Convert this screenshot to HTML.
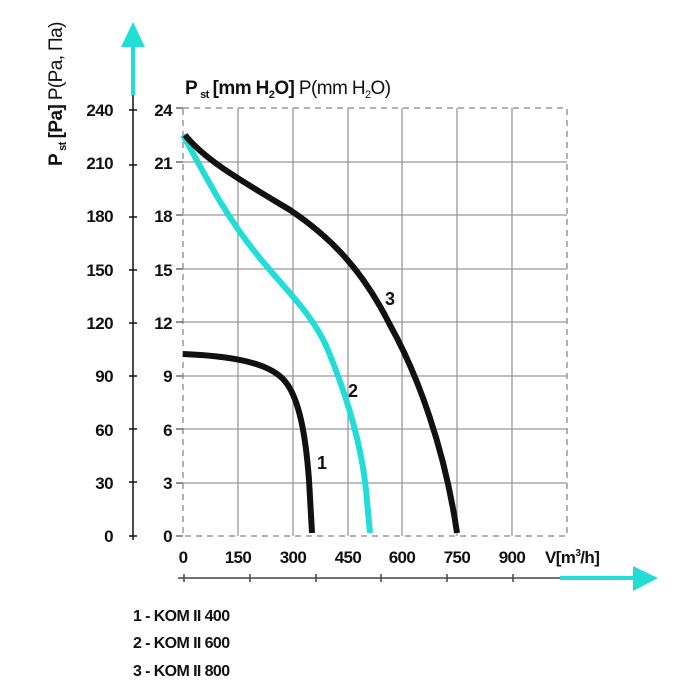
<!DOCTYPE html>
<html><head><meta charset="utf-8"><style>
body{margin:0;background:#fff}
svg{display:block}
text{font-family:"Liberation Sans Narrow","Liberation Sans",sans-serif;font-weight:bold;fill:#111;letter-spacing:-0.6px}
</style></head><body>
<svg width="700" height="700" viewBox="0 0 700 700" xmlns="http://www.w3.org/2000/svg">
<g stroke="#999" stroke-width="1.3">
<line x1="238" y1="108" x2="238" y2="536"/><line x1="293" y1="108" x2="293" y2="536"/>
<line x1="348" y1="108" x2="348" y2="536"/><line x1="402" y1="108" x2="402" y2="536"/>
<line x1="457" y1="108" x2="457" y2="536"/><line x1="512" y1="108" x2="512" y2="536"/>
<line x1="183" y1="162" x2="567" y2="162"/><line x1="183" y1="215" x2="567" y2="215"/>
<line x1="183" y1="269" x2="567" y2="269"/><line x1="183" y1="322" x2="567" y2="322"/>
<line x1="183" y1="376" x2="567" y2="376"/><line x1="183" y1="429" x2="567" y2="429"/>
<line x1="183" y1="483" x2="567" y2="483"/>
</g>
<g stroke="#999" stroke-width="1.5" stroke-dasharray="6,5" fill="none">
<rect x="183" y="108" width="384" height="428"/>
</g>
<g stroke="#555" stroke-width="1.3">
<line x1="176" y1="108" x2="183" y2="108"/><line x1="176" y1="162" x2="183" y2="162"/>
<line x1="176" y1="215" x2="183" y2="215"/><line x1="176" y1="269" x2="183" y2="269"/>
<line x1="176" y1="322" x2="183" y2="322"/><line x1="176" y1="376" x2="183" y2="376"/>
<line x1="176" y1="429" x2="183" y2="429"/><line x1="176" y1="483" x2="183" y2="483"/>
<line x1="176" y1="536" x2="183" y2="536"/>
</g>
<line x1="133" y1="95" x2="133" y2="540" stroke="#111" stroke-width="1.5"/>
<g stroke="#111" stroke-width="1.5">
<line x1="129" y1="110" x2="137" y2="110"/><line x1="129" y1="165" x2="137" y2="165"/>
<line x1="129" y1="217" x2="137" y2="217"/><line x1="129" y1="270" x2="137" y2="270"/>
<line x1="129" y1="323" x2="137" y2="323"/><line x1="129" y1="376" x2="137" y2="376"/>
<line x1="129" y1="429" x2="137" y2="429"/><line x1="129" y1="482" x2="137" y2="482"/>
<line x1="129" y1="536" x2="137" y2="536"/>
</g>
<line x1="133" y1="95" x2="133" y2="45" stroke="#22ddd6" stroke-width="4"/>
<polygon points="121,47 145,47 133,22" fill="#22ddd6"/>
<line x1="178" y1="578" x2="560" y2="578" stroke="#444" stroke-width="1.5"/>
<g stroke="#444" stroke-width="1.5">
<line x1="184" y1="574" x2="184" y2="582"/><line x1="250" y1="574" x2="250" y2="582"/>
<line x1="316" y1="574" x2="316" y2="582"/><line x1="381" y1="574" x2="381" y2="582"/>
<line x1="447" y1="574" x2="447" y2="582"/><line x1="513" y1="574" x2="513" y2="582"/>
</g>
<line x1="560" y1="578" x2="636" y2="578" stroke="#22ddd6" stroke-width="4"/>
<polygon points="633,566 633,591 658,578" fill="#22ddd6"/>
<g font-size="17" text-anchor="end">
<text x="113" y="116">240</text><text x="113" y="169">210</text><text x="113" y="222">180</text>
<text x="113" y="276">150</text><text x="113" y="329">120</text><text x="113" y="382">90</text>
<text x="113" y="436">60</text><text x="113" y="489">30</text><text x="113" y="542">0</text>
<text x="172" y="116">24</text><text x="172" y="169">21</text><text x="172" y="222">18</text>
<text x="172" y="276">15</text><text x="172" y="329">12</text><text x="172" y="382">9</text>
<text x="172" y="436">6</text><text x="172" y="489">3</text><text x="172" y="542">0</text>
</g>
<g font-size="17" text-anchor="middle">
<text x="183" y="563">0</text><text x="238" y="563">150</text><text x="293" y="563">300</text>
<text x="348" y="563">450</text><text x="402" y="563">600</text><text x="457" y="563">750</text>
<text x="512" y="563">900</text>
</g>
<text x="545" y="563" font-size="17">V[m<tspan font-size="10" dy="-7">3</tspan><tspan dy="7">/h]</tspan></text>
<text x="185" y="94" font-size="19" letter-spacing="-1.1">P<tspan font-size="11" dx="3" dy="4">st</tspan><tspan dx="4" dy="-4">[mm H</tspan><tspan font-size="11" dy="4">2</tspan><tspan dy="-4">O] </tspan><tspan font-weight="normal">P(mm H</tspan><tspan font-weight="normal" font-size="11" dy="4">2</tspan><tspan font-weight="normal" dy="-4">O)</tspan></text>
<text transform="translate(62,166) rotate(-90)" font-size="19" letter-spacing="-1.3">P<tspan font-size="11" dx="3" dy="4">st</tspan><tspan dx="4" dy="-4">[Pa] </tspan><tspan font-weight="normal">P(Pa, Па)</tspan></text>
<g fill="none" stroke-width="6" stroke-linecap="butt">
<path d="M183,354 C230,356 265,362 282,378 C300,395 306,440 309,480 L312,533" stroke="#111"/>
<path d="M183,135 C205,175 225,215 255,252 C285,290 315,315 330,355 C350,405 362,450 366,490 L370,533" stroke="#22ddd6"/>
<path d="M185,135 C205,160 240,180 290,210 C335,240 365,275 390,325 C418,375 445,450 457,533" stroke="#111"/>
</g>
<g font-size="18">
<text x="317" y="469">1</text><text x="348" y="397">2</text><text x="385" y="305">3</text>
</g>
<g font-size="16">
<text x="133" y="621">1 - KOM II 400</text>
<text x="133" y="648">2 - KOM II 600</text>
<text x="133" y="676">3 - KOM II 800</text>
</g>
</svg>
</body></html>
